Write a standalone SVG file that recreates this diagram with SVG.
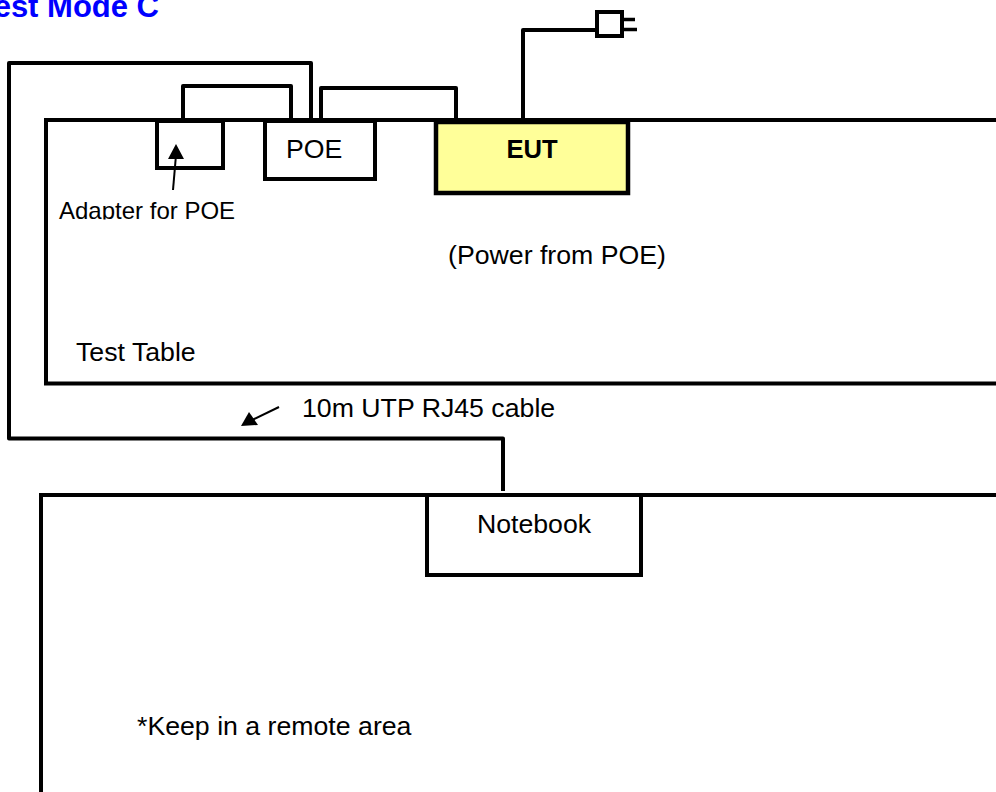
<svg xmlns="http://www.w3.org/2000/svg" width="996" height="792" viewBox="0 0 996 792">
<style>
.w{fill:none;stroke:#000;stroke-width:4;stroke-linejoin:round}
.b{fill:#fff;stroke:#000;stroke-width:4}
.t{font-family:"Liberation Sans",Arial,sans-serif;font-size:26.7px;fill:#000}
.a{fill:none;stroke:#000;stroke-width:2}
</style>
<defs><clipPath id="c"><rect x="50" y="190" width="220" height="29.5"/></clipPath></defs>
<rect width="996" height="792" fill="#fff"/>
<g id="test-table"><path class="b" d="M996 120H46V383.500H996"/><text class="t" x="76" y="361">Test Table</text></g>
<g id="adapter"><rect class="b" x="157" y="121" width="66" height="47"/></g>
<g id="adapter-label"><text class="t" x="59" y="219" style="font-size:24px" clip-path="url(#c)">Adapter for POE</text></g>
<g id="poe"><rect class="b" x="265" y="121" width="110" height="58"/><text class="t" x="286" y="158">POE</text></g>
<g id="eut"><rect x="436" y="122" width="192" height="71" fill="#ffff99" stroke="#000" stroke-width="4.500"/><text class="t" x="532" y="158" text-anchor="middle" style="font-weight:bold;font-size:25.600px">EUT</text></g>
<g id="plug"><rect class="b" x="597" y="12" width="25" height="24"/></g>
<text class="t" x="448" y="264">(Power from POE)</text>
<text class="t" x="302" y="417">10m UTP RJ45 cable</text>
<g id="remote-area"><path class="b" d="M996 495H41V792"/><text class="t" x="137" y="735">*Keep in a remote area</text></g>
<g id="notebook"><rect class="b" x="427" y="495" width="214" height="80"/><text class="t" x="534" y="533" text-anchor="middle">Notebook</text></g>
<text x="-23" y="17" style="font-family:'Liberation Sans',Arial,sans-serif;font-size:31px;font-weight:bold;fill:#00f">Test Mode C</text>
<g id="connectors">
<path class="w" d="M311 120V63H9V438.500H503V491"/>
<path class="w" d="M183 120V86H291V120"/>
<path class="w" d="M321 120V88H456V120"/>
<path class="w" d="M523 120V30H597"/>
<path class="w" d="M622 19.500H635M622 29.500H637" style="stroke-width:3.500"/>
<path class="a" d="M173 190L176 155"/>
<polygon points="168,159 184,159 176,144"/>
<path class="a" d="M279 407L252 420"/>
<polygon points="241,426 258,425 249,412"/>
</g>
</svg>
